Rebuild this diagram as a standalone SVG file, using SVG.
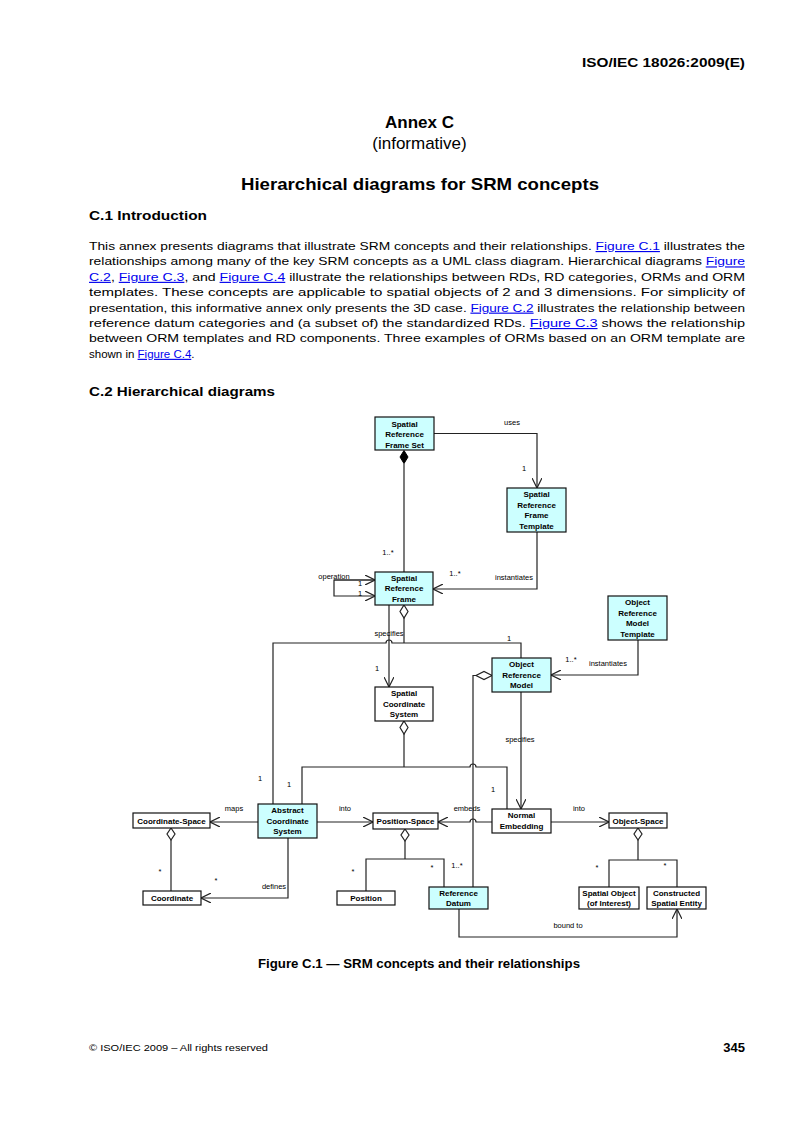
<svg xmlns="http://www.w3.org/2000/svg" width="793" height="1122" viewBox="0 0 793 1122">
<style>
.pg{font-family:"Liberation Sans",Arial,sans-serif;fill:#000}
.b{font-weight:bold}
.lk{fill:#0000ee;text-decoration:underline}
.nd rect{stroke:#111;stroke-width:1.2}
.cy{fill:#ccffff}
.wh{fill:#fff}
.nt{font-family:"Liberation Sans",Arial,sans-serif;font-weight:bold;font-size:8px;fill:#000;text-anchor:middle}
.lb{font-family:"Liberation Sans",Arial,sans-serif;font-size:7.5px;fill:#000;text-anchor:middle}
.ln{fill:none;stroke:#222;stroke-width:1.2}
.ar{marker-end:url(#arr)}
.dia{fill:#fff;stroke:#222;stroke-width:1.2}
.diaf{fill:#000;stroke:#000;stroke-width:1}
</style>
<defs>
<marker id="arr" viewBox="0 0 10 10" refX="10" refY="5" markerWidth="10" markerHeight="10" markerUnits="userSpaceOnUse" orient="auto">
<path d="M0,0 L10,5 L0,10" fill="none" stroke="#222" stroke-width="1.2"/>
</marker>
</defs>
<rect width="793" height="1122" fill="#fff"/>

<g id="page-text" class="pg">
<text x="745" y="67" class="b" font-size="13" text-anchor="end" textLength="163" lengthAdjust="spacingAndGlyphs">ISO/IEC 18026:2009(E)</text>
<text x="419.5" y="128" class="b" font-size="17" text-anchor="middle">Annex C</text>
<text x="419.5" y="149" font-size="17" text-anchor="middle">(informative)</text>
<text x="241" y="190" class="b" font-size="17" textLength="358" lengthAdjust="spacingAndGlyphs">Hierarchical diagrams for SRM concepts</text>
<text x="89" y="220" class="b" font-size="13" textLength="118" lengthAdjust="spacingAndGlyphs">C.1 Introduction</text>
<g font-size="11.5">
<text x="89" y="250" textLength="656" lengthAdjust="spacingAndGlyphs">This annex presents diagrams that illustrate SRM concepts and their relationships. <tspan class="lk">Figure C.1</tspan> illustrates the</text>
<text x="89" y="265.4" textLength="656" lengthAdjust="spacingAndGlyphs">relationships among many of the key SRM concepts as a UML class diagram. Hierarchical diagrams <tspan class="lk">Figure</tspan></text>
<text x="89" y="280.8" textLength="656" lengthAdjust="spacingAndGlyphs"><tspan class="lk">C.2</tspan>, <tspan class="lk">Figure C.3</tspan>, and <tspan class="lk">Figure C.4</tspan> illustrate the relationships between RDs, RD categories, ORMs and ORM</text>
<text x="89" y="296.2" textLength="656" lengthAdjust="spacingAndGlyphs">templates. These concepts are applicable to spatial objects of 2 and 3 dimensions. For simplicity of</text>
<text x="89" y="311.6" textLength="656" lengthAdjust="spacingAndGlyphs">presentation, this informative annex only presents the 3D case. <tspan class="lk">Figure C.2</tspan> illustrates the relationship between</text>
<text x="89" y="327" textLength="656" lengthAdjust="spacingAndGlyphs">reference datum categories and (a subset of) the standardized RDs. <tspan class="lk">Figure C.3</tspan> shows the relationship</text>
<text x="89" y="342.4" textLength="656" lengthAdjust="spacingAndGlyphs">between ORM templates and RD components. Three examples of ORMs based on an ORM template are</text>
<text x="89" y="357.8">shown in <tspan class="lk">Figure C.4</tspan>.</text>
</g>
<text x="89" y="396" class="b" font-size="13" textLength="186" lengthAdjust="spacingAndGlyphs">C.2 Hierarchical diagrams</text>
<text x="258" y="968" class="b" font-size="12" textLength="322" lengthAdjust="spacingAndGlyphs">Figure C.1 — SRM concepts and their relationships</text>
<text x="89" y="1051" font-size="9" textLength="179" lengthAdjust="spacingAndGlyphs">© ISO/IEC 2009 – All rights reserved</text>
<text x="745" y="1052" class="b" font-size="13" text-anchor="end">345</text>
</g>

<g id="connectors">
<path class="ln ar" d="M434,433.5 H537 V488"/>
<polygon class="diaf" points="404,450.5 408,457 404,463.5 400,457"/>
<path class="ln" d="M404,463.5 V572"/>
<path class="ln ar" d="M537,532 V589 H433"/>
<path class="ln ar" d="M375,580 H334 V596 H375"/>
<path class="ln ar" d="M334,580 H375"/>
<polygon class="dia" points="404,605 408,611.5 404,618 400,611.5"/>
<path class="ln" d="M404,618 V643"/>
<path class="ln" d="M273,804 V643 H386 a3,3 0 0 1 6,0 H521 V658"/>
<path class="ln ar" d="M389,605 V687"/>
<polygon class="dia" points="404,721 408,727.5 404,734 400,727.5"/>
<path class="ln" d="M404,734 V767"/>
<path class="ln" d="M302,804 V767 H470 a3,3 0 0 1 6,0 H507 V809"/>
<polygon class="dia" points="492,675.5 484,679.5 476,675.5 484,671.5"/>
<path class="ln" d="M476,675.5 H473 V887"/>
<path class="ln ar" d="M521,692 V809"/>
<path class="ln ar" d="M638,640 V675 H551"/>
<path class="ln ar" d="M258,822 H210"/>
<path class="ln ar" d="M317,822 H373"/>
<path class="ln ar" d="M492,822 H476 a3,3 0 0 0 -6,0 H438"/>
<path class="ln ar" d="M551,822 H609"/>
<polygon class="dia" points="171,828 175,834 171,840 167,834"/>
<path class="ln" d="M171,840 V891"/>
<path class="ln ar" d="M288,838 V898 H201"/>
<polygon class="dia" points="405,829 409,835 405,841 401,835"/>
<path class="ln" d="M405,841 V859 M366,891 V859 H444 V887"/>
<polygon class="dia" points="638,828 642,834 638,840 634,834"/>
<path class="ln" d="M638,840 V860 M609,887 V860 H677 V887"/>
<path class="ln ar" d="M459,909 V937 H677 V909"/>
<g id="labels">
<text class="lb" x="512" y="425">uses</text>
<text class="lb" x="524" y="471">1</text>
<text class="lb" x="388" y="555">1..*</text>
<text class="lb" x="455" y="576">1..*</text>
<text class="lb" x="514" y="580">instantiates</text>
<text class="lb" x="334" y="579">operation</text>
<text class="lb" x="360" y="586">1</text>
<text class="lb" x="360" y="596">1</text>
<text class="lb" x="389" y="636">specifies</text>
<text class="lb" x="509" y="641">1</text>
<text class="lb" x="377" y="671">1</text>
<text class="lb" x="571" y="662">1..*</text>
<text class="lb" x="608" y="666">instantiates</text>
<text class="lb" x="520" y="742">specifies</text>
<text class="lb" x="260" y="781">1</text>
<text class="lb" x="289" y="787">1</text>
<text class="lb" x="493" y="792">1</text>
<text class="lb" x="234" y="811">maps</text>
<text class="lb" x="345" y="811">into</text>
<text class="lb" x="467" y="811">embeds</text>
<text class="lb" x="579" y="811">into</text>
<text class="lb" x="160" y="874">*</text>
<text class="lb" x="216" y="883">*</text>
<text class="lb" x="274" y="889">defines</text>
<text class="lb" x="353" y="874">*</text>
<text class="lb" x="432" y="870">*</text>
<text class="lb" x="457" y="868">1..*</text>
<text class="lb" x="597" y="870">*</text>
<text class="lb" x="665" y="868">*</text>
<text class="lb" x="568" y="928">bound to</text>
</g>
</g>

<g id="srf-set" class="nd"><rect class="cy" x="375" y="417" width="59" height="33"/><text class="nt"><tspan x="404.5" y="426.5">Spatial</tspan><tspan x="404.5" y="437">Reference</tspan><tspan x="404.5" y="447.5">Frame Set</tspan></text></g>
<g id="srf-template" class="nd"><rect class="cy" x="507" y="488" width="59" height="44"/><text class="nt"><tspan x="536.5" y="497">Spatial</tspan><tspan x="536.5" y="507.5">Reference</tspan><tspan x="536.5" y="518">Frame</tspan><tspan x="536.5" y="528.5">Template</tspan></text></g>
<g id="srf" class="nd"><rect class="cy" x="375" y="572" width="58" height="33"/><text class="nt"><tspan x="404" y="580.5">Spatial</tspan><tspan x="404" y="591">Reference</tspan><tspan x="404" y="601.5">Frame</tspan></text></g>
<g id="orm-template" class="nd"><rect class="cy" x="608" y="596" width="59" height="44"/><text class="nt"><tspan x="637.5" y="605">Object</tspan><tspan x="637.5" y="615.5">Reference</tspan><tspan x="637.5" y="626">Model</tspan><tspan x="637.5" y="636.5">Template</tspan></text></g>
<g id="orm" class="nd"><rect class="cy" x="492" y="658" width="59" height="34"/><text class="nt"><tspan x="521.5" y="667">Object</tspan><tspan x="521.5" y="677.5">Reference</tspan><tspan x="521.5" y="688">Model</tspan></text></g>
<g id="scs" class="nd"><rect class="wh" x="375" y="687" width="58" height="34"/><text class="nt"><tspan x="404" y="696">Spatial</tspan><tspan x="404" y="706.5">Coordinate</tspan><tspan x="404" y="717">System</tspan></text></g>
<g id="acs" class="nd"><rect class="cy" x="258" y="804" width="59" height="34"/><text class="nt"><tspan x="287.5" y="813">Abstract</tspan><tspan x="287.5" y="823.5">Coordinate</tspan><tspan x="287.5" y="834">System</tspan></text></g>
<g id="coordinate-space" class="nd"><rect class="wh" x="133" y="813" width="77" height="15"/><text class="nt" x="171.5" y="823.5">Coordinate-Space</text></g>
<g id="position-space" class="nd"><rect class="wh" x="373" y="813" width="65" height="16"/><text class="nt" x="405.5" y="824">Position-Space</text></g>
<g id="normal-embedding" class="nd"><rect class="wh" x="492" y="809" width="59" height="24"/><text class="nt"><tspan x="521.5" y="818">Normal</tspan><tspan x="521.5" y="829">Embedding</tspan></text></g>
<g id="object-space" class="nd"><rect class="wh" x="609" y="813" width="58" height="15"/><text class="nt" x="638" y="823.5">Object-Space</text></g>
<g id="coordinate" class="nd"><rect class="wh" x="143" y="891" width="58" height="14"/><text class="nt" x="172" y="901">Coordinate</text></g>
<g id="position" class="nd"><rect class="wh" x="337" y="891" width="58" height="14"/><text class="nt" x="366" y="901">Position</text></g>
<g id="reference-datum" class="nd"><rect class="cy" x="429" y="887" width="59" height="22"/><text class="nt"><tspan x="458.5" y="896">Reference</tspan><tspan x="458.5" y="906">Datum</tspan></text></g>
<g id="spatial-object" class="nd"><rect class="wh" x="579" y="887" width="60" height="22"/><text class="nt"><tspan x="609" y="896">Spatial Object</tspan><tspan x="609" y="906">(of Interest)</tspan></text></g>
<g id="constructed-entity" class="nd"><rect class="wh" x="647" y="887" width="59" height="22"/><text class="nt"><tspan x="676.5" y="896">Constructed</tspan><tspan x="676.5" y="906">Spatial Entity</tspan></text></g>
</svg>
